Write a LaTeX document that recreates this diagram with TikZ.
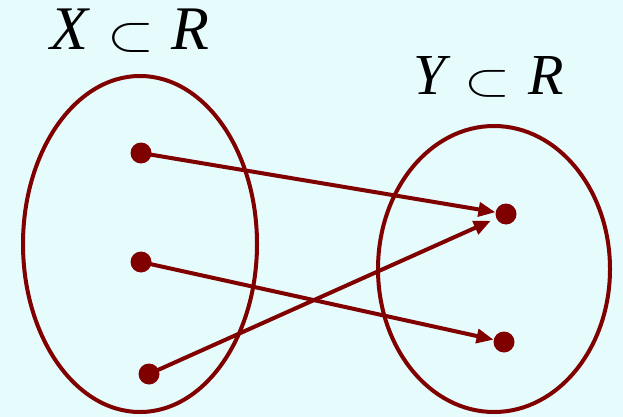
\documentclass[tikz,border=0pt]{standalone}
\usepackage{fix-cm}
\usepackage{graphicx}
\usepackage{fontspec}
\setmainfont{Liberation Serif}
\usetikzlibrary{arrows.meta}
\definecolor{bg}{HTML}{E6FBFB}
\definecolor{dred}{HTML}{800000}
\tikzset{
  setline/.style={draw=dred, line width=4pt},
  dot/.style={circle, fill=dred, inner sep=0pt, minimum size=21pt},
  maparrow/.style={draw=dred, line width=4pt, -{Triangle[length=17pt,width=14pt]}},
  lbl/.style={inner sep=0pt, anchor=base west}
}
\begin{document}
\begin{tikzpicture}[x=1pt,y=-1pt]
\fill[bg] (0,0) rectangle (623,417);
\useasboundingbox (0,0) rectangle (623,417);
\draw[setline] (140,244) ellipse [x radius=117, y radius=168];
\draw[setline] (494,269) ellipse [x radius=116, y radius=143];
\node[lbl, font=\fontsize{62}{70}\selectfont] (lx) at (50,50)
  {\itshape X\hspace{19pt}\raisebox{-1pt}{\resizebox{47pt}{27pt}{$\subset$}}\hspace{17pt}R};
\node[lbl, font=\fontsize{58}{66}\selectfont] (ly) at (413,95)
  {\itshape Y\hspace{19pt}\raisebox{-1pt}{\resizebox{46pt}{25pt}{$\subset$}}\hspace{18pt}R};
\node[dot] (a) at (141,153) {};
\node[dot] (b) at (141,262) {};
\node[dot] (c) at (149,374) {};
\node[dot] (d) at (506,214) {};
\node[dot] (e) at (504,342) {};
\draw[maparrow] (a.center) -- (d);
\draw[maparrow] (b.center) -- (e);
\draw[maparrow, shorten >=6pt] (c.center) -- (d);
\end{tikzpicture}
\end{document}
